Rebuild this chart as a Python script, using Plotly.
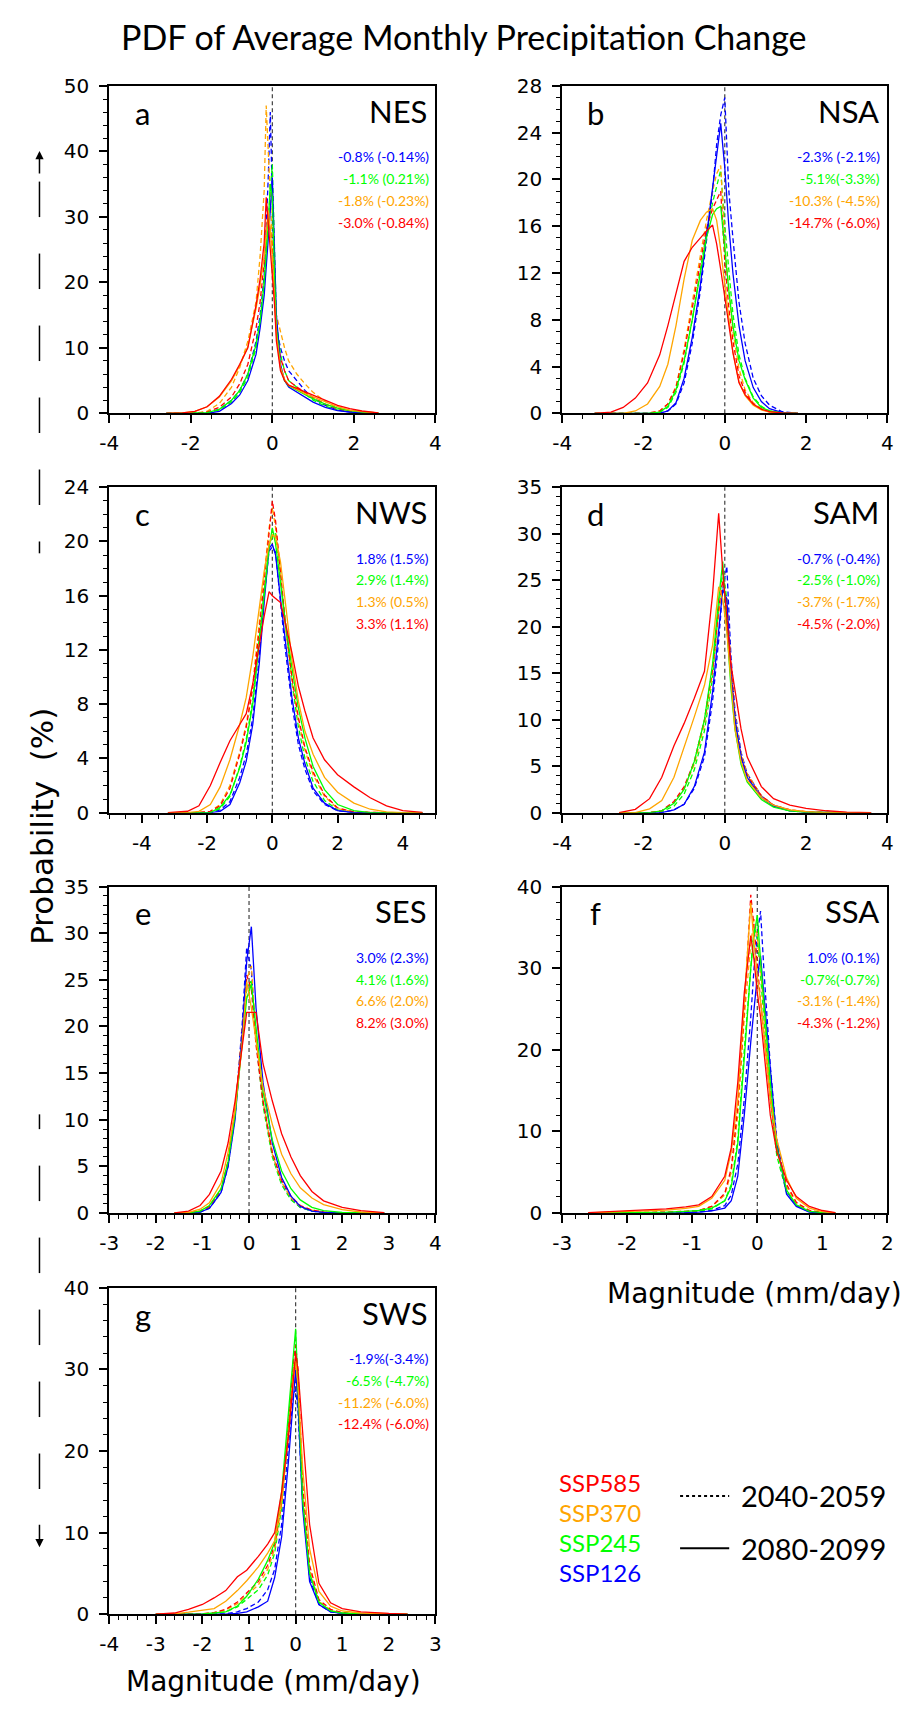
import plotly.graph_objects as go

W, H = 915, 1714
TXT = "Lato"
NUM = "DejaVu Sans"

COLOR = {"SSP585": "#FF0000", "SSP370": "#FFA500", "SSP245": "#00FF00", "SSP126": "#0000FF"}
SCEN_ORDER = ["SSP126", "SSP245", "SSP370", "SSP585"]
LEGEND_ORDER = ["SSP585", "SSP370", "SSP245", "SSP126"]

# ---------------- Panel a : NES ----------------
XA = [-2.6, -2.2, -1.9, -1.6, -1.3, -1.0, -0.8, -0.6, -0.4, -0.3, -0.2, -0.15, -0.1, -0.05, 0.0, 0.05, 0.1, 0.2, 0.3, 0.4, 0.6, 0.8, 1.0, 1.3, 1.6, 1.9, 2.2, 2.6]
A585L = [0, 0.05, 0.3, 1.0, 2.6, 5.2, 7.5, 10.0, 16.5, 20.5, 26, 33, 29, 25, 22, 17, 11, 6.5, 5, 4.3, 3.8, 3.3, 2.8, 2.0, 1.2, 0.7, 0.35, 0.08]
A370L = [0, 0.05, 0.3, 1.0, 2.5, 5.0, 7.3, 10.2, 16, 19.5, 24, 28, 31, 28, 24, 18, 12, 7, 5.2, 4.3, 3.6, 3.0, 2.5, 1.8, 1.0, 0.5, 0.25, 0.05]
A245L = [0, 0, 0, 0.1, 0.6, 2.0, 3.5, 6.0, 10.5, 14, 20, 24, 29, 35, 33, 22, 13, 7, 5, 4.2, 3.5, 2.8, 2.2, 1.4, 0.8, 0.4, 0.2, 0.05]
A126L = [0, 0, 0, 0, 0.3, 1.5, 2.8, 5, 9, 13, 18, 22, 27, 31, 36, 25, 15, 7.5, 5, 4, 3.2, 2.4, 1.7, 0.9, 0.4, 0.2, 0.1, 0]
A585E = [0, 0, 0, 0.2, 0.9, 2.5, 4.5, 7.5, 13, 17, 23, 28, 30, 28, 25, 19, 13, 8.5, 6.5, 5, 4, 3.2, 2.4, 1.4, 0.7, 0.3, 0.1, 0]
A370E = [0, 0, 0, 0.3, 1.5, 4, 7, 11, 17, 24, 34, 47, 40, 32, 25, 19, 15, 12.5, 10, 8, 6, 4.5, 3.2, 1.8, 0.8, 0.3, 0.1, 0]
A245E = [0, 0, 0, 0.1, 0.5, 1.7, 3.2, 5.5, 10, 14, 20, 25, 30, 34, 38, 24, 14, 9, 6.5, 5, 4, 3, 2, 1.1, 0.5, 0.2, 0.05, 0]
A126E = [0, 0, 0, 0.1, 0.6, 2, 3.5, 6, 11, 15, 21, 28, 36, 46, 33, 20, 13, 10, 8, 6.5, 5, 3.5, 2.3, 1.2, 0.5, 0.2, 0.05, 0]
NOTES_A = ["-0.8% (-0.14%)", "-1.1% (0.21%)", "-1.8% (-0.23%)", "-3.0% (-0.84%)"]

# ---------------- Panel b : NSA ----------------
XB = [-3.2, -2.8, -2.5, -2.2, -1.9, -1.6, -1.4, -1.2, -1.0, -0.8, -0.6, -0.45, -0.3, -0.2, -0.1, 0.0, 0.1, 0.2, 0.35, 0.5, 0.7, 0.9, 1.1, 1.4, 1.8]
B585L = [0, 0.1, 0.5, 1.3, 2.6, 5.0, 7.5, 10.3, 13, 14.2, 15.0, 15.6, 16.1, 14.5, 12.3, 10, 7.8, 5.2, 2.6, 1.6, 0.8, 0.35, 0.15, 0.03, 0]
B370L = [0, 0, 0, 0.2, 0.8, 2.3, 4.2, 7.5, 11.5, 14.8, 16.5, 17.2, 17.5, 16.5, 14, 11, 8, 5.2, 2.7, 1.5, 0.7, 0.3, 0.1, 0, 0]
B245L = [0, 0, 0, 0, 0, 0.1, 0.6, 2, 4.5, 8, 12, 15, 17, 17.5, 17.7, 14, 10.5, 7.5, 4.5, 2.9, 1.3, 0.5, 0.2, 0.03, 0]
B126L = [0, 0, 0, 0, 0, 0, 0.2, 0.9, 3, 6.5, 11, 15, 19, 22, 24.8, 21, 16, 12, 7.5, 4.5, 2.2, 1.0, 0.4, 0.08, 0]
B585E = [0, 0, 0, 0, 0, 0.2, 0.8, 2.2, 5.2, 9, 13, 15.8, 17.5, 18.3, 19, 13, 9, 6.2, 3.2, 1.8, 0.8, 0.35, 0.12, 0, 0]
B370E = [0, 0, 0, 0, 0, 0.2, 0.8, 2.3, 5.5, 9.5, 13.5, 16.5, 19, 20.5, 21.2, 14.5, 10.5, 7, 3.8, 2, 0.9, 0.4, 0.12, 0, 0]
B245E = [0, 0, 0, 0, 0, 0.1, 0.5, 1.8, 4.3, 8, 12.3, 15.5, 18, 19.5, 20.8, 16, 12, 8.5, 5, 3, 1.4, 0.6, 0.2, 0.03, 0]
B126E = [0, 0, 0, 0, 0, 0, 0.2, 0.8, 2.6, 6, 10.5, 14.5, 19, 23, 25.5, 27, 19, 15, 9.5, 6, 3, 1.5, 0.7, 0.15, 0]
NOTES_B = ["-2.3% (-2.1%)", "-5.1%(-3.3%)", "-10.3% (-4.5%)", "-14.7% (-6.0%)"]

# ---------------- Panel c : NWS ----------------
XC = [-3.2, -2.6, -2.25, -1.9, -1.6, -1.3, -1.0, -0.8, -0.6, -0.4, -0.25, -0.1, 0.0, 0.1, 0.25, 0.4, 0.6, 0.8, 1.0, 1.25, 1.6, 2.0, 2.5, 3.0, 3.5, 4.0, 4.6]
C585L = [0, 0.1, 0.5, 2.0, 3.7, 5.3, 6.5, 7.3, 9.5, 12.5, 14.5, 16.3, 16.0, 15.8, 15.5, 14.0, 11.8, 9.3, 7.5, 5.5, 3.9, 2.8, 1.9, 1.1, 0.5, 0.15, 0.02]
C370L = [0, 0, 0.1, 0.6, 1.9, 3.9, 6.5, 8.5, 11.5, 15, 17.8, 19.8, 20.5, 20.3, 18.5, 15.5, 11.3, 8.2, 6.0, 4.3, 2.6, 1.5, 0.7, 0.25, 0.06, 0, 0]
C245L = [0, 0, 0, 0, 0.4, 1.3, 3.3, 5.2, 8, 12.3, 16, 19.5, 21, 19.8, 17, 14, 10.7, 7.7, 5.5, 3.4, 1.7, 0.6, 0.15, 0, 0, 0, 0]
C126L = [0, 0, 0, 0, 0.1, 0.6, 2.2, 3.8, 6.5, 11, 15.5, 19.5, 19.8, 19, 15.8, 12.5, 8.5, 5.5, 3.6, 1.8, 0.7, 0.15, 0, 0, 0, 0, 0]
C585E = [0, 0, 0, 0.1, 0.5, 1.8, 4.3, 6.3, 9.2, 13.5, 17, 21, 23, 21.5, 17.5, 14, 10, 7, 4.8, 3.0, 1.3, 0.35, 0.05, 0, 0, 0, 0]
C370E = [0, 0, 0, 0.1, 0.6, 2.0, 4.5, 6.5, 9.5, 14, 17.5, 21, 22.5, 21, 17.5, 13.8, 9.8, 6.8, 4.6, 2.8, 1.2, 0.3, 0.05, 0, 0, 0, 0]
C245E = [0, 0, 0, 0, 0.3, 1.2, 3.4, 5.4, 8.3, 12.8, 16.5, 19.8, 20.3, 20.6, 17.3, 13.8, 9.6, 6.3, 4, 2.3, 0.9, 0.2, 0, 0, 0, 0, 0]
C126E = [0, 0, 0, 0, 0.2, 0.8, 2.6, 4.3, 7, 11.5, 16, 19.3, 19.6, 19.2, 15.5, 12, 8, 5, 3.2, 1.6, 0.6, 0.15, 0, 0, 0, 0, 0]
NOTES_C = ["1.8% (1.5%)", "2.9% (1.4%)", "1.3% (0.5%)", "3.3% (1.1%)"]

# ---------------- Panel d : SAM ----------------
XD = [-2.6, -2.2, -1.85, -1.55, -1.25, -1.0, -0.75, -0.5, -0.3, -0.15, -0.05, 0.05, 0.15, 0.25, 0.4, 0.55, 0.9, 1.2, 1.6, 2.0, 2.5, 3.0, 3.6]
D585L = [0, 0.35, 1.5, 3.8, 7.2, 9.6, 12.3, 15.2, 23.5, 32.2, 26, 20.5, 16, 13.2, 9, 6, 2.8, 1.5, 0.8, 0.45, 0.2, 0.06, 0]
D370L = [0, 0, 0.4, 1.3, 3.8, 7, 10.3, 13.7, 18, 24.3, 23, 19.5, 14, 9, 5.5, 3.5, 1.6, 0.8, 0.3, 0.1, 0, 0, 0]
D245L = [0, 0, 0, 0.2, 1.0, 2.5, 5.5, 10, 16, 23, 27, 20, 13.5, 9, 5.2, 3.3, 1.4, 0.6, 0.2, 0.05, 0, 0, 0]
D126L = [0, 0, 0, 0, 0.3, 0.9, 2.8, 6.5, 13, 20, 24, 23, 15, 10, 6, 3.8, 1.6, 0.7, 0.2, 0.05, 0, 0, 0]
D585E = [0, 0, 0, 0.2, 1.2, 2.8, 5.5, 10, 15.5, 22, 25, 22, 15.5, 10, 6, 4, 1.8, 0.8, 0.3, 0.1, 0, 0, 0]
D370E = [0, 0, 0, 0.2, 1.1, 2.6, 5.2, 9.5, 15, 21.5, 24, 23, 16, 10.5, 6.3, 4.2, 1.8, 0.8, 0.3, 0.1, 0, 0, 0]
D245E = [0, 0, 0, 0.1, 0.7, 2.0, 4.6, 8.8, 14.5, 22, 26, 23, 15, 9.8, 5.8, 3.8, 1.6, 0.7, 0.2, 0.05, 0, 0, 0]
D126E = [0, 0, 0, 0, 0.3, 0.9, 2.6, 6, 12, 18.5, 24, 26.5, 17, 11, 6.5, 4.2, 1.8, 0.8, 0.25, 0.05, 0, 0, 0]
NOTES_D = ["-0.7% (-0.4%)", "-2.5% (-1.0%)", "-3.7% (-1.7%)", "-4.5% (-2.0%)"]

# ---------------- Panel e : SES ----------------
XE = [-1.6, -1.3, -1.05, -0.85, -0.6, -0.45, -0.3, -0.15, -0.05, 0.05, 0.15, 0.3, 0.5, 0.7, 0.9, 1.1, 1.35, 1.6, 2.0, 2.4, 2.9]
E585L = [0, 0.2, 0.8, 2.0, 4.5, 7.5, 12, 18, 21.5, 21.5, 21.5, 16, 12, 8.5, 6, 4, 2.3, 1.3, 0.6, 0.25, 0.04]
E370L = [0, 0.05, 0.4, 1.1, 3.2, 6.5, 11, 18, 24.8, 22, 18.5, 13.5, 9.5, 6.3, 4.2, 2.7, 1.6, 0.9, 0.35, 0.1, 0]
E245L = [0, 0, 0.2, 0.8, 2.6, 5.5, 10.5, 18, 23, 24.5, 20, 13, 7.8, 4.5, 2.6, 1.4, 0.6, 0.25, 0.05, 0, 0]
E126L = [0, 0, 0.1, 0.5, 2.2, 5, 10, 19, 27, 30.7, 22, 14, 7.5, 3.8, 1.8, 0.7, 0.2, 0.05, 0, 0, 0]
E585E = [0, 0, 0.2, 0.7, 2.5, 5.5, 11, 19, 25.5, 24, 18, 12, 6.5, 3.5, 1.8, 0.8, 0.3, 0.1, 0, 0, 0]
E370E = [0, 0, 0.2, 0.7, 2.5, 5.5, 11, 19, 25, 26.5, 19, 12, 6.3, 3.3, 1.6, 0.7, 0.3, 0.1, 0, 0, 0]
E245E = [0, 0, 0.1, 0.6, 2.3, 5.2, 10.5, 18.5, 24, 25, 18.5, 11.5, 6, 3, 1.4, 0.6, 0.2, 0.05, 0, 0, 0]
E126E = [0, 0, 0.1, 0.5, 2.2, 5, 10.5, 20, 28.5, 26, 18.5, 12, 6.3, 3.3, 1.5, 0.6, 0.2, 0.05, 0, 0, 0]
NOTES_E = ["3.0% (2.3%)", "4.1% (1.6%)", "6.6% (2.0%)", "8.2% (3.0%)"]

# ---------------- Panel f : SSA ----------------
XF = [-2.6, -2.2, -1.8, -1.4, -1.1, -0.9, -0.7, -0.5, -0.4, -0.3, -0.2, -0.1, -0.05, 0.0, 0.05, 0.1, 0.2, 0.3, 0.45, 0.6, 0.8, 1.0, 1.2]
F585L = [0.05, 0.2, 0.35, 0.5, 0.75, 1.0, 2.0, 4.5, 8, 16, 27, 34, 31, 27, 24, 20, 12, 7.5, 4, 2, 0.8, 0.3, 0.05]
F370L = [0.02, 0.1, 0.2, 0.35, 0.55, 0.8, 1.8, 4, 7.5, 14, 26, 38, 33, 29, 26, 22, 14, 9, 4.3, 1.8, 0.6, 0.15, 0]
F245L = [0, 0.02, 0.05, 0.1, 0.2, 0.3, 0.6, 1.5, 3.2, 8.5, 19, 30, 34, 36.5, 31, 26, 16, 8, 2.8, 1.0, 0.2, 0.05, 0]
F126L = [0, 0, 0, 0.02, 0.05, 0.1, 0.25, 0.6, 1.5, 4.5, 12, 21, 25, 29, 31.5, 27, 17, 8.5, 2.3, 0.8, 0.1, 0, 0]
F585E = [0, 0.02, 0.05, 0.1, 0.2, 0.3, 0.8, 2.4, 5.5, 13, 25, 39, 35, 30, 26, 22, 14, 8, 3.5, 1.3, 0.3, 0.05, 0]
F370E = [0, 0.02, 0.05, 0.1, 0.2, 0.3, 0.8, 2.2, 5, 12, 24, 33, 36, 34, 30, 25, 15, 8, 3.2, 1.2, 0.3, 0.05, 0]
F245E = [0, 0, 0.02, 0.05, 0.1, 0.2, 0.5, 1.5, 3.5, 9, 20, 30, 35, 34, 29, 24, 14, 7, 2.5, 0.9, 0.2, 0.03, 0]
F126E = [0, 0, 0, 0.02, 0.05, 0.1, 0.3, 0.9, 2.2, 6, 14, 24, 30, 34, 37, 30, 18, 9, 2.7, 0.9, 0.15, 0, 0]
NOTES_F = ["1.0% (0.1%)", "-0.7%(-0.7%)", "-3.1% (-1.4%)", "-4.3% (-1.2%)"]

# ---------------- Panel g : SWS ----------------
XG = [-3.0, -2.6, -2.3, -2.0, -1.75, -1.5, -1.25, -1.05, -0.8, -0.6, -0.45, -0.3, -0.15, -0.05, 0.0, 0.05, 0.15, 0.3, 0.5, 0.75, 1.0, 1.4, 2.0, 2.4]
G585L = [0, 0.15, 0.6, 1.2, 2.0, 2.9, 4.6, 5.4, 7.1, 8.6, 10, 15, 22, 29, 32, 30, 22, 11, 3.8, 1.4, 0.7, 0.3, 0.1, 0.02]
G370L = [0, 0.05, 0.25, 0.5, 0.7, 1.6, 2.9, 4.1, 5.8, 7.5, 9, 14, 22, 29, 31, 28, 18, 8, 2.8, 1.0, 0.4, 0.15, 0.03, 0]
G245L = [0, 0, 0, 0.05, 0.15, 0.3, 1.0, 2.2, 4.3, 6.6, 8.8, 15, 25, 32, 35, 28, 14, 5, 1.5, 0.4, 0.15, 0.05, 0, 0]
G126L = [0, 0, 0, 0, 0, 0, 0.1, 0.3, 0.9, 1.6, 4.5, 9.5, 19, 26, 30, 26, 13, 4, 1.2, 0.3, 0.1, 0, 0, 0]
G585E = [0, 0, 0, 0.05, 0.2, 0.6, 1.5, 2.6, 4, 6, 8.5, 14, 23, 31, 33, 30, 16, 6, 1.8, 0.6, 0.2, 0.05, 0, 0]
G370E = [0, 0, 0, 0.05, 0.2, 0.5, 1.3, 2.3, 3.6, 5.5, 8, 13.5, 23, 30.5, 31, 28, 15, 5.5, 1.6, 0.5, 0.15, 0.05, 0, 0]
G245E = [0, 0, 0, 0, 0.1, 0.3, 0.9, 1.8, 3, 4.8, 7.5, 13, 24, 31, 30, 26, 14, 5, 1.4, 0.4, 0.1, 0, 0, 0]
G126E = [0, 0, 0, 0, 0, 0.05, 0.3, 0.7, 1.5, 3, 5.5, 11, 21, 27, 27.5, 25, 14, 4.5, 1.2, 0.3, 0.1, 0, 0, 0]
NOTES_G = ["-1.9%(-3.4%)", "-6.5% (-4.7%)", "-11.2% (-6.0%)", "-12.4% (-6.0%)"]
# the original figure labels the -1 tick of panel g as "1"
G_TICKTEXT = ["-4", "-3", "-2", "1", "0", "1", "2", "3"]

# ---------------- layout geometry (pixels) ----------------
COLS = [(101, 433), (562, 893)]
ROWS = [(75, 407), (482, 812), (887, 1218), (1294, 1625)]

PANELS = [
    dict(letter="a", region="NES", c=0, r=0, x=XA,
         late=dict(SSP585=A585L, SSP370=A370L, SSP245=A245L, SSP126=A126L),
         early=dict(SSP585=A585E, SSP370=A370E, SSP245=A245E, SSP126=A126E),
         xr=(-4, 4), yr=(0, 50), xd=2, xm=0.5, yd=10, ym=2, notes=NOTES_A),
    dict(letter="b", region="NSA", c=1, r=0, x=XB,
         late=dict(SSP585=B585L, SSP370=B370L, SSP245=B245L, SSP126=B126L),
         early=dict(SSP585=B585E, SSP370=B370E, SSP245=B245E, SSP126=B126E),
         xr=(-4, 4), yr=(0, 28), xd=2, xm=0.5, yd=4, ym=1, notes=NOTES_B),
    dict(letter="c", region="NWS", c=0, r=1, x=XC,
         late=dict(SSP585=C585L, SSP370=C370L, SSP245=C245L, SSP126=C126L),
         early=dict(SSP585=C585E, SSP370=C370E, SSP245=C245E, SSP126=C126E),
         xr=(-5, 5), yr=(0, 24), xd=2, xm=0.5, yd=4, ym=1, notes=NOTES_C),
    dict(letter="d", region="SAM", c=1, r=1, x=XD,
         late=dict(SSP585=D585L, SSP370=D370L, SSP245=D245L, SSP126=D126L),
         early=dict(SSP585=D585E, SSP370=D370E, SSP245=D245E, SSP126=D126E),
         xr=(-4, 4), yr=(0, 35), xd=2, xm=0.5, yd=5, ym=1, notes=NOTES_D),
    dict(letter="e", region="SES", c=0, r=2, x=XE,
         late=dict(SSP585=E585L, SSP370=E370L, SSP245=E245L, SSP126=E126L),
         early=dict(SSP585=E585E, SSP370=E370E, SSP245=E245E, SSP126=E126E),
         xr=(-3, 4), yr=(0, 35), xd=1, xm=0.2, yd=5, ym=1, notes=NOTES_E),
    dict(letter="f", region="SSA", c=1, r=2, x=XF,
         late=dict(SSP585=F585L, SSP370=F370L, SSP245=F245L, SSP126=F126L),
         early=dict(SSP585=F585E, SSP370=F370E, SSP245=F245E, SSP126=F126E),
         xr=(-3, 2), yr=(0, 40), xd=1, xm=0.2, yd=10, ym=2, notes=NOTES_F),
    dict(letter="g", region="SWS", c=0, r=3, x=XG,
         late=dict(SSP585=G585L, SSP370=G370L, SSP245=G245L, SSP126=G126L),
         early=dict(SSP585=G585E, SSP370=G370E, SSP245=G245E, SSP126=G126E),
         xr=(-4, 3), yr=(0, 40), xd=1, xm=0.2, yd=10, ym=2, notes=NOTES_G,
         ticktext=G_TICKTEXT),
]


def PX(x):
    return x / W


def PY(y):
    return 1 - y / H


def tick_values(lo, hi, step):
    vals = []
    k = 0
    while True:
        v = round(lo + k * step, 6)
        if v > hi + 1e-9:
            break
        if abs(round(v / step) * step - v) < 1e-9 and abs(v % step) < 1e-9 or True:
            vals.append(v)
        k += 1
    return vals


fig = go.Figure()
layout = dict(width=W, height=H, margin=dict(l=0, r=0, t=0, b=0),
              paper_bgcolor="white", plot_bgcolor="white", showlegend=False)
shapes = []
annotations = []

for i, p in enumerate(PANELS, start=1):
    s = "" if i == 1 else str(i)
    x0, x1 = COLS[p["c"]]
    t, b = ROWS[p["r"]]
    lo, hi = p["xr"]
    start = lo if lo % p["xd"] == 0 else lo + (p["xd"] - lo % p["xd"])
    xt = tick_values(start, hi, p["xd"])
    xtext = p.get("ticktext", ["%g" % v for v in xt])
    xa = dict(domain=[x0 / W, x1 / W], anchor="y" + s, range=list(p["xr"]),
              showline=True, linecolor="black", linewidth=2, mirror=True,
              ticks="outside", ticklen=8, tickwidth=1.5, tickcolor="black",
              tickmode="array", tickvals=xt, ticktext=xtext,
              minor=dict(dtick=p["xm"], tick0=0, ticks="outside", ticklen=4, tickwidth=1, tickcolor="black"),
              showgrid=False, zeroline=False, ticklabelstandoff=3,
              tickfont=dict(family=NUM, size=20, color="black"))
    ya = dict(domain=[1 - b / H, 1 - t / H], anchor="x" + s, range=list(p["yr"]),
              showline=True, linecolor="black", linewidth=2, mirror=True,
              ticks="outside", ticklen=8, tickwidth=1.5, tickcolor="black",
              tick0=0, dtick=p["yd"],
              minor=dict(dtick=p["ym"], tick0=0, ticks="outside", ticklen=4, tickwidth=1, tickcolor="black"),
              showgrid=False, zeroline=False, ticklabelstandoff=6,
              tickfont=dict(family=NUM, size=20, color="black"))
    layout["xaxis" + s] = xa
    layout["yaxis" + s] = ya

    for period, dash in (("early", "5px,3px"), ("late", "solid")):
        for sc in SCEN_ORDER:
            fig.add_trace(go.Scatter(x=p["x"], y=p[period][sc], xaxis="x" + s, yaxis="y" + s,
                                     mode="lines", hoverinfo="skip",
                                     line=dict(color=COLOR[sc], width=1.3, dash=dash)))

    shapes.append(dict(type="line", xref="x" + s, yref="y" + s + " domain", x0=0, x1=0, y0=0, y1=1,
                       line=dict(color="#404040", width=1.2, dash="4px,3px"), layer="below"))

    annotations.append(dict(x=PX(x0 + 34), y=PY(t + 27), xref="paper", yref="paper", text=p["letter"],
                            showarrow=False, xanchor="center", yanchor="middle",
                            font=dict(family=TXT, size=31, color="black")))
    annotations.append(dict(x=PX(x1 - 7), y=PY(t + 25), xref="paper", yref="paper", text=p["region"],
                            showarrow=False, xanchor="right", yanchor="middle",
                            font=dict(family=TXT, size=31, color="black")))
    for k, sc in enumerate(SCEN_ORDER):
        annotations.append(dict(x=PX(x1 - 5), y=PY(t + 72 + 22 * k), xref="paper", yref="paper",
                                text=p["notes"][k], showarrow=False, xanchor="right", yanchor="middle",
                                font=dict(family=TXT, size=14, color=COLOR[sc])))

# title and axis titles
annotations.append(dict(x=PX(462), y=PY(25), xref="paper", yref="paper",
                        text="PDF of Average Monthly Precipitation Change", showarrow=False,
                        xanchor="center", yanchor="middle", font=dict(family=TXT, size=34, color="black")))
annotations.append(dict(x=PX(33), y=PY(826), xref="paper", yref="paper", text="Probability  (%)",
                        textangle=-90, showarrow=False, xanchor="center", yanchor="middle",
                        font=dict(family=NUM, size=31, color="black")))
annotations.append(dict(x=PX(758), y=PY(1300), xref="paper", yref="paper", text="Magnitude (mm/day)",
                        showarrow=False, xanchor="center", yanchor="middle",
                        font=dict(family=NUM, size=28, color="black")))
annotations.append(dict(x=PX(268), y=PY(1693), xref="paper", yref="paper", text="Magnitude (mm/day)",
                        showarrow=False, xanchor="center", yanchor="middle",
                        font=dict(family=NUM, size=28, color="black")))

# left decoration: dashed guide with arrows
LX = 30
for y0 in (172, 245, 318, 391, 464):
    shapes.append(dict(type="line", xref="paper", yref="paper", x0=PX(LX), x1=PX(LX),
                       y0=PY(y0), y1=PY(y0 + 36), line=dict(color="black", width=1.5)))
shapes.append(dict(type="line", xref="paper", yref="paper", x0=PX(LX), x1=PX(LX),
                   y0=PY(537), y1=PY(549), line=dict(color="black", width=1.5)))
shapes.append(dict(type="line", xref="paper", yref="paper", x0=PX(LX), x1=PX(LX),
                   y0=PY(1118), y1=PY(1133), line=dict(color="black", width=1.5)))
for y0 in (1170, 1243, 1316, 1389, 1462):
    shapes.append(dict(type="line", xref="paper", yref="paper", x0=PX(LX), x1=PX(LX),
                       y0=PY(y0), y1=PY(y0 + 36), line=dict(color="black", width=1.5)))
annotations.append(dict(x=PX(LX), y=PY(141), xref="paper", yref="paper", text="", showarrow=True,
                        ax=0, ay=24, arrowhead=2, arrowsize=1.1, arrowwidth=1.5, arrowcolor="black"))
annotations.append(dict(x=PX(LX), y=PY(1557), xref="paper", yref="paper", text="", showarrow=True,
                        ax=0, ay=-24, arrowhead=2, arrowsize=1.1, arrowwidth=1.5, arrowcolor="black"))

# custom legend
LEG_Y0 = 1491
for k, sc in enumerate(LEGEND_ORDER):
    annotations.append(dict(x=PX(557), y=PY(LEG_Y0 + 30.5 * k), xref="paper", yref="paper", text=sc,
                            showarrow=False, xanchor="left", yanchor="middle",
                            font=dict(family=TXT, size=24, color=COLOR[sc])))
PERIODS = ["2040-2059", "2080-2099"]
PERIOD_DASH = ["3px,3px", "solid"]
for k, (lab, dsh) in enumerate(zip(PERIODS, PERIOD_DASH)):
    yy = LEG_Y0 + 14 + 53 * k
    shapes.append(dict(type="line", xref="paper", yref="paper", x0=PX(682), x1=PX(732),
                       y0=PY(yy), y1=PY(yy), line=dict(color="black", width=2, dash=dsh)))
    annotations.append(dict(x=PX(742), y=PY(yy), xref="paper", yref="paper", text=lab,
                            showarrow=False, xanchor="left", yanchor="middle",
                            font=dict(family=TXT, size=29, color="black")))

layout["shapes"] = shapes
layout["annotations"] = annotations
fig.update_layout(**layout)
fig.write_html("out.html")
